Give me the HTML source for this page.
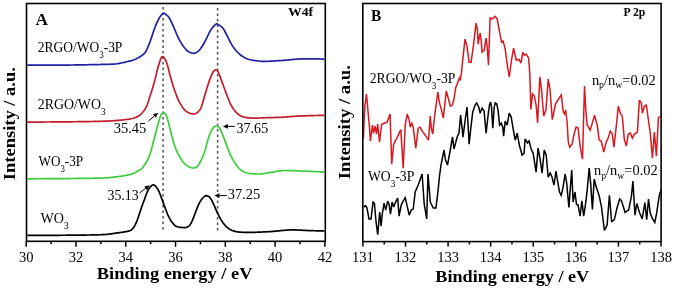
<!DOCTYPE html>
<html><head><meta charset="utf-8"><style>
html,body{margin:0;padding:0;background:#fff;width:675px;height:289px;overflow:hidden;}
svg{display:block;will-change:transform;}
</style></head><body>
<svg width="675" height="289" viewBox="0 0 675 289"><rect width="100%" height="100%" fill="#fff"/><line x1="163.1" y1="7" x2="163.1" y2="229.5" stroke="#505050" stroke-width="1.5" stroke-dasharray="2.6,2.9"/><line x1="217.6" y1="8" x2="217.6" y2="230.5" stroke="#505050" stroke-width="1.5" stroke-dasharray="2.6,2.9"/><path d="M27.30,65.20 L28.30,65.20 L29.30,65.20 L30.30,65.20 L31.30,65.20 L32.30,65.20 L33.30,65.20 L34.30,65.19 L35.30,65.19 L36.30,65.19 L37.30,65.19 L38.30,65.19 L39.30,65.18 L40.30,65.18 L41.30,65.18 L42.30,65.17 L43.30,65.17 L44.30,65.17 L45.30,65.16 L46.30,65.16 L47.30,65.16 L48.30,65.15 L49.30,65.15 L50.30,65.15 L51.30,65.14 L52.30,65.14 L53.30,65.13 L54.30,65.13 L55.30,65.12 L56.30,65.12 L57.30,65.11 L58.30,65.11 L59.30,65.10 L60.30,65.10 L61.30,65.09 L62.30,65.09 L63.30,65.08 L64.30,65.07 L65.30,65.06 L66.30,65.06 L67.30,65.05 L68.30,65.04 L69.30,65.03 L70.30,65.02 L71.30,65.00 L72.30,64.99 L73.30,64.98 L74.30,64.97 L75.30,64.95 L76.30,64.94 L77.30,64.93 L78.30,64.91 L79.30,64.90 L80.30,64.88 L81.30,64.86 L82.30,64.85 L83.30,64.83 L84.30,64.81 L85.30,64.80 L86.30,64.78 L87.30,64.76 L88.30,64.74 L89.30,64.72 L90.30,64.70 L91.30,64.68 L92.30,64.66 L93.30,64.64 L94.30,64.62 L95.30,64.60 L96.30,64.58 L97.30,64.56 L98.30,64.54 L99.30,64.52 L100.30,64.49 L101.30,64.47 L102.30,64.45 L103.30,64.43 L104.30,64.41 L105.30,64.38 L106.30,64.36 L107.30,64.33 L108.30,64.30 L109.30,64.27 L110.30,64.23 L111.30,64.19 L112.30,64.14 L113.30,64.10 L114.30,64.04 L115.30,63.98 L116.30,63.88 L117.30,63.74 L118.30,63.57 L119.30,63.38 L120.30,63.18 L121.30,62.98 L122.30,62.77 L123.30,62.55 L124.30,62.31 L125.30,62.06 L126.30,61.80 L127.30,61.55 L128.30,61.31 L129.30,61.08 L130.30,60.84 L131.30,60.60 L132.30,60.33 L133.30,60.03 L134.30,59.68 L135.30,59.28 L136.30,58.82 L137.30,58.31 L138.30,57.76 L139.30,57.17 L140.30,56.55 L141.30,55.91 L142.30,55.22 L143.30,54.43 L144.30,53.49 L145.30,52.34 L146.30,50.65 L147.30,48.48 L148.30,46.17 L149.30,43.67 L150.30,40.93 L151.30,38.10 L152.30,35.10 L153.30,31.98 L154.30,29.07 L155.30,26.49 L156.30,24.09 L157.30,21.91 L158.30,19.89 L159.30,18.00 L160.30,16.41 L161.30,15.18 L162.30,14.05 L163.30,13.31 L164.30,13.29 L165.30,13.89 L166.30,14.77 L167.30,15.64 L168.30,16.66 L169.30,18.04 L170.30,19.80 L171.30,21.78 L172.30,23.84 L173.30,26.14 L174.30,28.53 L175.30,30.90 L176.30,33.29 L177.30,35.53 L178.30,37.63 L179.30,39.62 L180.30,41.48 L181.30,43.19 L182.30,44.82 L183.30,46.30 L184.30,47.56 L185.30,48.74 L186.30,49.83 L187.30,50.75 L188.30,51.45 L189.30,51.97 L190.30,52.46 L191.30,52.87 L192.30,53.16 L193.30,53.30 L194.30,53.22 L195.30,52.91 L196.30,52.44 L197.30,51.87 L198.30,51.22 L199.30,50.26 L200.30,49.02 L201.30,47.61 L202.30,46.15 L203.30,44.54 L204.30,42.74 L205.30,40.82 L206.30,38.88 L207.30,36.89 L208.30,34.74 L209.30,32.62 L210.30,30.71 L211.30,29.16 L212.30,27.79 L213.30,26.59 L214.30,25.60 L215.30,24.68 L216.30,23.95 L217.30,23.87 L218.30,24.45 L219.30,25.20 L220.30,25.87 L221.30,26.60 L222.30,27.48 L223.30,28.63 L224.30,30.30 L225.30,32.24 L226.30,34.19 L227.30,36.17 L228.30,38.24 L229.30,40.24 L230.30,42.11 L231.30,43.92 L232.30,45.62 L233.30,47.14 L234.30,48.51 L235.30,49.78 L236.30,50.94 L237.30,52.00 L238.30,52.98 L239.30,53.91 L240.30,54.78 L241.30,55.56 L242.30,56.25 L243.30,56.85 L244.30,57.41 L245.30,57.93 L246.30,58.41 L247.30,58.84 L248.30,59.21 L249.30,59.52 L250.30,59.77 L251.30,59.99 L252.30,60.18 L253.30,60.36 L254.30,60.51 L255.30,60.65 L256.30,60.78 L257.30,60.89 L258.30,61.02 L259.30,61.13 L260.30,61.23 L261.30,61.32 L262.30,61.38 L263.30,61.40 L264.30,61.40 L265.30,61.38 L266.30,61.36 L267.30,61.33 L268.30,61.29 L269.30,61.25 L270.30,61.20 L271.30,61.14 L272.30,61.08 L273.30,61.02 L274.30,60.96 L275.30,60.89 L276.30,60.83 L277.30,60.76 L278.30,60.70 L279.30,60.64 L280.30,60.58 L281.30,60.52 L282.30,60.45 L283.30,60.37 L284.30,60.29 L285.30,60.20 L286.30,60.11 L287.30,60.02 L288.30,59.93 L289.30,59.83 L290.30,59.73 L291.30,59.64 L292.30,59.54 L293.30,59.45 L294.30,59.36 L295.30,59.27 L296.30,59.19 L297.30,59.11 L298.30,59.04 L299.30,58.98 L300.30,58.93 L301.30,58.88 L302.30,58.84 L303.30,58.82 L304.30,58.80 L305.30,58.80 L306.30,58.80 L307.30,58.80 L308.30,58.80 L309.30,58.80 L310.30,58.81 L311.30,58.81 L312.30,58.82 L313.30,58.83 L314.30,58.84 L315.30,58.86 L316.30,58.88 L317.30,58.90 L318.30,58.93 L319.30,58.96 L320.30,58.99 L321.30,59.03 L322.30,59.08 L323.30,59.13 L324.30,59.19 L324.50,59.20" fill="none" stroke="#2020a0" stroke-width="1.7" stroke-linejoin="round"/><path d="M27.30,122.10 L28.30,122.10 L29.30,122.10 L30.30,122.09 L31.30,122.09 L32.30,122.09 L33.30,122.08 L34.30,122.08 L35.30,122.07 L36.30,122.07 L37.30,122.06 L38.30,122.06 L39.30,122.05 L40.30,122.05 L41.30,122.04 L42.30,122.04 L43.30,122.03 L44.30,122.02 L45.30,122.02 L46.30,122.01 L47.30,122.00 L48.30,122.00 L49.30,121.99 L50.30,121.98 L51.30,121.97 L52.30,121.96 L53.30,121.96 L54.30,121.95 L55.30,121.94 L56.30,121.93 L57.30,121.92 L58.30,121.91 L59.30,121.91 L60.30,121.90 L61.30,121.89 L62.30,121.88 L63.30,121.87 L64.30,121.86 L65.30,121.85 L66.30,121.84 L67.30,121.83 L68.30,121.82 L69.30,121.81 L70.30,121.80 L71.30,121.79 L72.30,121.78 L73.30,121.77 L74.30,121.76 L75.30,121.75 L76.30,121.73 L77.30,121.72 L78.30,121.71 L79.30,121.70 L80.30,121.68 L81.30,121.67 L82.30,121.65 L83.30,121.64 L84.30,121.62 L85.30,121.61 L86.30,121.59 L87.30,121.57 L88.30,121.56 L89.30,121.54 L90.30,121.52 L91.30,121.50 L92.30,121.48 L93.30,121.46 L94.30,121.44 L95.30,121.42 L96.30,121.39 L97.30,121.37 L98.30,121.35 L99.30,121.32 L100.30,121.30 L101.30,121.27 L102.30,121.24 L103.30,121.22 L104.30,121.19 L105.30,121.16 L106.30,121.12 L107.30,121.08 L108.30,121.04 L109.30,120.99 L110.30,120.94 L111.30,120.88 L112.30,120.82 L113.30,120.76 L114.30,120.69 L115.30,120.62 L116.30,120.54 L117.30,120.46 L118.30,120.37 L119.30,120.28 L120.30,120.18 L121.30,120.08 L122.30,119.97 L123.30,119.86 L124.30,119.74 L125.30,119.62 L126.30,119.49 L127.30,119.36 L128.30,119.22 L129.30,119.07 L130.30,118.92 L131.30,118.72 L132.30,118.49 L133.30,118.20 L134.30,117.88 L135.30,117.51 L136.30,117.10 L137.30,116.64 L138.30,116.13 L139.30,115.50 L140.30,114.72 L141.30,113.80 L142.30,112.74 L143.30,111.55 L144.30,110.22 L145.30,108.76 L146.30,107.01 L147.30,104.59 L148.30,101.69 L149.30,98.53 L150.30,95.34 L151.30,92.25 L152.30,89.04 L153.30,85.69 L154.30,82.18 L155.30,78.38 L156.30,74.10 L157.30,69.86 L158.30,66.21 L159.30,63.12 L160.30,60.04 L161.30,57.61 L162.30,56.51 L163.30,56.89 L164.30,58.07 L165.30,59.77 L166.30,61.70 L167.30,64.44 L168.30,68.26 L169.30,72.44 L170.30,76.25 L171.30,79.75 L172.30,83.20 L173.30,86.48 L174.30,89.47 L175.30,92.31 L176.30,95.04 L177.30,97.60 L178.30,99.90 L179.30,101.90 L180.30,103.68 L181.30,105.37 L182.30,106.94 L183.30,108.35 L184.30,109.57 L185.30,110.57 L186.30,111.35 L187.30,112.04 L188.30,112.62 L189.30,113.07 L190.30,113.38 L191.30,113.63 L192.30,113.84 L193.30,113.97 L194.30,113.99 L195.30,113.74 L196.30,113.22 L197.30,112.47 L198.30,111.54 L199.30,110.45 L200.30,109.23 L201.30,107.08 L202.30,103.99 L203.30,100.45 L204.30,96.96 L205.30,93.74 L206.30,90.33 L207.30,86.91 L208.30,83.69 L209.30,80.87 L210.30,78.17 L211.30,75.60 L212.30,73.35 L213.30,71.67 L214.30,70.53 L215.30,69.83 L216.30,69.93 L217.30,70.37 L218.30,72.29 L219.30,74.75 L220.30,77.38 L221.30,80.16 L222.30,82.87 L223.30,85.57 L224.30,88.26 L225.30,90.94 L226.30,93.61 L227.30,96.23 L228.30,98.76 L229.30,101.28 L230.30,103.58 L231.30,105.52 L232.30,107.23 L233.30,108.74 L234.30,110.10 L235.30,111.33 L236.30,112.41 L237.30,113.36 L238.30,114.25 L239.30,115.03 L240.30,115.65 L241.30,116.11 L242.30,116.51 L243.30,116.87 L244.30,117.17 L245.30,117.41 L246.30,117.58 L247.30,117.68 L248.30,117.78 L249.30,117.87 L250.30,117.95 L251.30,118.01 L252.30,118.06 L253.30,118.09 L254.30,118.10 L255.30,118.10 L256.30,118.08 L257.30,118.06 L258.30,118.02 L259.30,117.99 L260.30,117.95 L261.30,117.91 L262.30,117.87 L263.30,117.83 L264.30,117.80 L265.30,117.77 L266.30,117.74 L267.30,117.71 L268.30,117.68 L269.30,117.65 L270.30,117.62 L271.30,117.59 L272.30,117.57 L273.30,117.54 L274.30,117.51 L275.30,117.47 L276.30,117.44 L277.30,117.40 L278.30,117.37 L279.30,117.33 L280.30,117.29 L281.30,117.24 L282.30,117.19 L283.30,117.13 L284.30,117.06 L285.30,116.99 L286.30,116.92 L287.30,116.84 L288.30,116.77 L289.30,116.69 L290.30,116.61 L291.30,116.53 L292.30,116.46 L293.30,116.38 L294.30,116.31 L295.30,116.25 L296.30,116.18 L297.30,116.12 L298.30,116.07 L299.30,116.03 L300.30,115.99 L301.30,115.95 L302.30,115.92 L303.30,115.88 L304.30,115.85 L305.30,115.81 L306.30,115.78 L307.30,115.75 L308.30,115.71 L309.30,115.68 L310.30,115.65 L311.30,115.62 L312.30,115.59 L313.30,115.57 L314.30,115.54 L315.30,115.52 L316.30,115.50 L317.30,115.48 L318.30,115.46 L319.30,115.45 L320.30,115.43 L321.30,115.42 L322.30,115.41 L323.30,115.40 L324.30,115.40 L324.50,115.40" fill="none" stroke="#c41c2c" stroke-width="1.7" stroke-linejoin="round"/><path d="M27.30,178.80 L28.30,178.80 L29.30,178.79 L30.30,178.79 L31.30,178.79 L32.30,178.78 L33.30,178.78 L34.30,178.77 L35.30,178.77 L36.30,178.76 L37.30,178.76 L38.30,178.75 L39.30,178.75 L40.30,178.74 L41.30,178.74 L42.30,178.73 L43.30,178.72 L44.30,178.72 L45.30,178.71 L46.30,178.70 L47.30,178.70 L48.30,178.69 L49.30,178.68 L50.30,178.68 L51.30,178.67 L52.30,178.66 L53.30,178.65 L54.30,178.65 L55.30,178.64 L56.30,178.63 L57.30,178.62 L58.30,178.61 L59.30,178.61 L60.30,178.60 L61.30,178.59 L62.30,178.58 L63.30,178.57 L64.30,178.57 L65.30,178.56 L66.30,178.55 L67.30,178.54 L68.30,178.53 L69.30,178.53 L70.30,178.52 L71.30,178.51 L72.30,178.50 L73.30,178.49 L74.30,178.48 L75.30,178.47 L76.30,178.46 L77.30,178.45 L78.30,178.44 L79.30,178.43 L80.30,178.42 L81.30,178.41 L82.30,178.40 L83.30,178.39 L84.30,178.38 L85.30,178.36 L86.30,178.35 L87.30,178.34 L88.30,178.32 L89.30,178.31 L90.30,178.29 L91.30,178.27 L92.30,178.26 L93.30,178.24 L94.30,178.22 L95.30,178.20 L96.30,178.18 L97.30,178.16 L98.30,178.14 L99.30,178.12 L100.30,178.09 L101.30,178.07 L102.30,178.04 L103.30,178.02 L104.30,177.99 L105.30,177.95 L106.30,177.89 L107.30,177.82 L108.30,177.74 L109.30,177.65 L110.30,177.55 L111.30,177.44 L112.30,177.32 L113.30,177.20 L114.30,177.07 L115.30,176.94 L116.30,176.80 L117.30,176.67 L118.30,176.53 L119.30,176.39 L120.30,176.26 L121.30,176.12 L122.30,175.99 L123.30,175.84 L124.30,175.69 L125.30,175.53 L126.30,175.35 L127.30,175.16 L128.30,174.95 L129.30,174.72 L130.30,174.47 L131.30,174.15 L132.30,173.78 L133.30,173.36 L134.30,172.90 L135.30,172.41 L136.30,171.90 L137.30,171.37 L138.30,170.83 L139.30,170.26 L140.30,169.63 L141.30,168.90 L142.30,168.01 L143.30,166.80 L144.30,165.34 L145.30,163.77 L146.30,162.19 L147.30,160.48 L148.30,158.50 L149.30,156.08 L150.30,153.23 L151.30,150.00 L152.30,146.25 L153.30,142.24 L154.30,138.26 L155.30,134.43 L156.30,130.57 L157.30,126.84 L158.30,123.37 L159.30,119.75 L160.30,116.53 L161.30,114.58 L162.30,113.47 L163.30,112.84 L164.30,113.01 L165.30,113.87 L166.30,115.19 L167.30,118.14 L168.30,122.09 L169.30,125.88 L170.30,129.88 L171.30,133.99 L172.30,137.85 L173.30,141.26 L174.30,144.48 L175.30,147.44 L176.30,150.04 L177.30,152.32 L178.30,154.37 L179.30,156.23 L180.30,157.94 L181.30,159.55 L182.30,161.01 L183.30,162.28 L184.30,163.35 L185.30,164.32 L186.30,165.17 L187.30,165.88 L188.30,166.47 L189.30,167.03 L190.30,167.49 L191.30,167.77 L192.30,167.90 L193.30,167.98 L194.30,167.98 L195.30,167.66 L196.30,167.08 L197.30,166.36 L198.30,165.20 L199.30,163.60 L200.30,161.75 L201.30,159.81 L202.30,157.64 L203.30,155.18 L204.30,152.45 L205.30,149.47 L206.30,145.82 L207.30,141.90 L208.30,138.48 L209.30,135.42 L210.30,132.70 L211.30,130.65 L212.30,129.02 L213.30,127.72 L214.30,126.86 L215.30,126.21 L216.30,125.74 L217.30,125.62 L218.30,126.36 L219.30,127.75 L220.30,129.32 L221.30,131.35 L222.30,133.82 L223.30,136.35 L224.30,138.94 L225.30,141.66 L226.30,144.37 L227.30,147.12 L228.30,149.85 L229.30,152.33 L230.30,154.56 L231.30,156.65 L232.30,158.59 L233.30,160.37 L234.30,162.04 L235.30,163.59 L236.30,165.03 L237.30,166.32 L238.30,167.52 L239.30,168.58 L240.30,169.44 L241.30,170.21 L242.30,170.91 L243.30,171.53 L244.30,172.03 L245.30,172.40 L246.30,172.71 L247.30,172.98 L248.30,173.22 L249.30,173.41 L250.30,173.55 L251.30,173.64 L252.30,173.72 L253.30,173.79 L254.30,173.85 L255.30,173.91 L256.30,173.95 L257.30,173.98 L258.30,174.00 L259.30,174.00 L260.30,173.96 L261.30,173.88 L262.30,173.77 L263.30,173.63 L264.30,173.47 L265.30,173.30 L266.30,173.11 L267.30,172.93 L268.30,172.76 L269.30,172.60 L270.30,172.46 L271.30,172.31 L272.30,172.15 L273.30,171.98 L274.30,171.81 L275.30,171.63 L276.30,171.45 L277.30,171.28 L278.30,171.12 L279.30,170.97 L280.30,170.83 L281.30,170.71 L282.30,170.62 L283.30,170.55 L284.30,170.51 L285.30,170.50 L286.30,170.51 L287.30,170.52 L288.30,170.54 L289.30,170.57 L290.30,170.60 L291.30,170.63 L292.30,170.67 L293.30,170.72 L294.30,170.76 L295.30,170.80 L296.30,170.85 L297.30,170.89 L298.30,170.93 L299.30,170.97 L300.30,171.01 L301.30,171.05 L302.30,171.08 L303.30,171.12 L304.30,171.16 L305.30,171.20 L306.30,171.24 L307.30,171.27 L308.30,171.31 L309.30,171.35 L310.30,171.39 L311.30,171.43 L312.30,171.47 L313.30,171.52 L314.30,171.56 L315.30,171.60 L316.30,171.64 L317.30,171.68 L318.30,171.73 L319.30,171.77 L320.30,171.81 L321.30,171.86 L322.30,171.90 L323.30,171.95 L324.30,171.99 L324.50,172.00" fill="none" stroke="#3ccc3c" stroke-width="1.7" stroke-linejoin="round"/><path d="M27.30,235.40 L28.30,235.40 L29.30,235.40 L30.30,235.40 L31.30,235.40 L32.30,235.40 L33.30,235.40 L34.30,235.39 L35.30,235.39 L36.30,235.39 L37.30,235.39 L38.30,235.38 L39.30,235.38 L40.30,235.38 L41.30,235.37 L42.30,235.37 L43.30,235.37 L44.30,235.36 L45.30,235.36 L46.30,235.35 L47.30,235.35 L48.30,235.34 L49.30,235.34 L50.30,235.33 L51.30,235.33 L52.30,235.32 L53.30,235.32 L54.30,235.31 L55.30,235.30 L56.30,235.30 L57.30,235.29 L58.30,235.28 L59.30,235.28 L60.30,235.27 L61.30,235.26 L62.30,235.25 L63.30,235.25 L64.30,235.24 L65.30,235.23 L66.30,235.22 L67.30,235.21 L68.30,235.21 L69.30,235.20 L70.30,235.19 L71.30,235.18 L72.30,235.17 L73.30,235.16 L74.30,235.15 L75.30,235.14 L76.30,235.14 L77.30,235.13 L78.30,235.12 L79.30,235.11 L80.30,235.10 L81.30,235.09 L82.30,235.08 L83.30,235.07 L84.30,235.05 L85.30,235.04 L86.30,235.03 L87.30,235.01 L88.30,235.00 L89.30,234.98 L90.30,234.97 L91.30,234.95 L92.30,234.93 L93.30,234.91 L94.30,234.89 L95.30,234.86 L96.30,234.84 L97.30,234.81 L98.30,234.79 L99.30,234.76 L100.30,234.73 L101.30,234.69 L102.30,234.66 L103.30,234.62 L104.30,234.58 L105.30,234.52 L106.30,234.44 L107.30,234.34 L108.30,234.23 L109.30,234.10 L110.30,233.96 L111.30,233.82 L112.30,233.67 L113.30,233.51 L114.30,233.36 L115.30,233.21 L116.30,233.07 L117.30,232.93 L118.30,232.80 L119.30,232.66 L120.30,232.53 L121.30,232.39 L122.30,232.24 L123.30,232.09 L124.30,231.92 L125.30,231.75 L126.30,231.58 L127.30,231.40 L128.30,231.20 L129.30,230.93 L130.30,230.57 L131.30,229.93 L132.30,229.02 L133.30,227.93 L134.30,226.44 L135.30,224.60 L136.30,222.48 L137.30,219.84 L138.30,216.95 L139.30,214.04 L140.30,210.98 L141.30,207.96 L142.30,205.18 L143.30,202.55 L144.30,199.93 L145.30,197.15 L146.30,194.29 L147.30,191.81 L148.30,189.81 L149.30,188.07 L150.30,186.80 L151.30,185.83 L152.30,185.07 L153.30,184.80 L154.30,185.19 L155.30,186.02 L156.30,187.01 L157.30,188.40 L158.30,190.21 L159.30,192.24 L160.30,194.73 L161.30,197.50 L162.30,200.19 L163.30,202.84 L164.30,205.50 L165.30,208.20 L166.30,211.05 L167.30,213.74 L168.30,215.95 L169.30,217.93 L170.30,219.69 L171.30,221.20 L172.30,222.51 L173.30,223.77 L174.30,224.90 L175.30,225.82 L176.30,226.42 L177.30,226.75 L178.30,226.99 L179.30,227.17 L180.30,227.30 L181.30,227.40 L182.30,227.48 L183.30,227.55 L184.30,227.59 L185.30,227.59 L186.30,227.42 L187.30,227.07 L188.30,226.60 L189.30,225.82 L190.30,224.41 L191.30,222.73 L192.30,220.59 L193.30,218.07 L194.30,215.53 L195.30,212.85 L196.30,210.21 L197.30,207.66 L198.30,205.19 L199.30,203.13 L200.30,201.35 L201.30,199.79 L202.30,198.51 L203.30,197.50 L204.30,196.54 L205.30,195.84 L206.30,195.60 L207.30,195.80 L208.30,196.24 L209.30,196.88 L210.30,198.11 L211.30,199.68 L212.30,201.44 L213.30,203.55 L214.30,205.74 L215.30,208.05 L216.30,210.39 L217.30,212.57 L218.30,214.67 L219.30,216.67 L220.30,218.50 L221.30,220.18 L222.30,221.75 L223.30,223.17 L224.30,224.40 L225.30,225.55 L226.30,226.59 L227.30,227.51 L228.30,228.27 L229.30,228.92 L230.30,229.52 L231.30,230.04 L232.30,230.49 L233.30,230.84 L234.30,231.12 L235.30,231.38 L236.30,231.61 L237.30,231.81 L238.30,231.96 L239.30,232.07 L240.30,232.13 L241.30,232.19 L242.30,232.24 L243.30,232.28 L244.30,232.32 L245.30,232.35 L246.30,232.38 L247.30,232.39 L248.30,232.40 L249.30,232.40 L250.30,232.39 L251.30,232.38 L252.30,232.36 L253.30,232.34 L254.30,232.32 L255.30,232.29 L256.30,232.25 L257.30,232.22 L258.30,232.18 L259.30,232.13 L260.30,232.09 L261.30,232.04 L262.30,231.99 L263.30,231.94 L264.30,231.89 L265.30,231.84 L266.30,231.79 L267.30,231.74 L268.30,231.69 L269.30,231.64 L270.30,231.58 L271.30,231.53 L272.30,231.46 L273.30,231.38 L274.30,231.30 L275.30,231.21 L276.30,231.12 L277.30,231.02 L278.30,230.92 L279.30,230.82 L280.30,230.72 L281.30,230.62 L282.30,230.52 L283.30,230.42 L284.30,230.33 L285.30,230.25 L286.30,230.17 L287.30,230.10 L288.30,230.04 L289.30,229.99 L290.30,229.94 L291.30,229.92 L292.30,229.90 L293.30,229.90 L294.30,229.91 L295.30,229.93 L296.30,229.96 L297.30,229.99 L298.30,230.03 L299.30,230.07 L300.30,230.12 L301.30,230.17 L302.30,230.23 L303.30,230.28 L304.30,230.34 L305.30,230.39 L306.30,230.44 L307.30,230.49 L308.30,230.54 L309.30,230.58 L310.30,230.61 L311.30,230.64 L312.30,230.67 L313.30,230.70 L314.30,230.73 L315.30,230.76 L316.30,230.79 L317.30,230.82 L318.30,230.85 L319.30,230.88 L320.30,230.90 L321.30,230.93 L322.30,230.95 L323.30,230.97 L324.30,231.00 L324.50,231.00" fill="none" stroke="#000" stroke-width="1.7" stroke-linejoin="round"/><rect x="26.5" y="3.5" width="298.80" height="237.80" fill="none" stroke="#000" stroke-width="1.6"/><line x1="26.20" y1="241.3" x2="26.20" y2="246.8" stroke="#000" stroke-width="1.5"/><line x1="51.09" y1="241.3" x2="51.09" y2="244.3" stroke="#000" stroke-width="1.5"/><line x1="75.98" y1="241.3" x2="75.98" y2="246.8" stroke="#000" stroke-width="1.5"/><line x1="100.87" y1="241.3" x2="100.87" y2="244.3" stroke="#000" stroke-width="1.5"/><line x1="125.76" y1="241.3" x2="125.76" y2="246.8" stroke="#000" stroke-width="1.5"/><line x1="150.65" y1="241.3" x2="150.65" y2="244.3" stroke="#000" stroke-width="1.5"/><line x1="175.54" y1="241.3" x2="175.54" y2="246.8" stroke="#000" stroke-width="1.5"/><line x1="200.43" y1="241.3" x2="200.43" y2="244.3" stroke="#000" stroke-width="1.5"/><line x1="225.32" y1="241.3" x2="225.32" y2="246.8" stroke="#000" stroke-width="1.5"/><line x1="250.21" y1="241.3" x2="250.21" y2="244.3" stroke="#000" stroke-width="1.5"/><line x1="275.10" y1="241.3" x2="275.10" y2="246.8" stroke="#000" stroke-width="1.5"/><line x1="299.99" y1="241.3" x2="299.99" y2="244.3" stroke="#000" stroke-width="1.5"/><line x1="324.88" y1="241.3" x2="324.88" y2="246.8" stroke="#000" stroke-width="1.5"/><text x="26.20" y="261.8" font-family="Liberation Serif, serif" font-size="14.5" text-anchor="middle">30</text><text x="75.98" y="261.8" font-family="Liberation Serif, serif" font-size="14.5" text-anchor="middle">32</text><text x="125.76" y="261.8" font-family="Liberation Serif, serif" font-size="14.5" text-anchor="middle">34</text><text x="175.54" y="261.8" font-family="Liberation Serif, serif" font-size="14.5" text-anchor="middle">36</text><text x="225.32" y="261.8" font-family="Liberation Serif, serif" font-size="14.5" text-anchor="middle">38</text><text x="275.10" y="261.8" font-family="Liberation Serif, serif" font-size="14.5" text-anchor="middle">40</text><text x="324.88" y="261.8" font-family="Liberation Serif, serif" font-size="14.5" text-anchor="middle">42</text><line x1="148.4" y1="121.1" x2="154.38" y2="116.03" stroke="#000" stroke-width="1"/><polygon points="158.2,112.8 155.87,117.79 152.90,114.28" fill="#000"/><line x1="234.7" y1="126.4" x2="227.90" y2="126.40" stroke="#000" stroke-width="1"/><polygon points="222.9,126.4 227.90,124.10 227.90,128.70" fill="#000"/><line x1="139.5" y1="193" x2="145.62" y2="188.33" stroke="#000" stroke-width="1"/><polygon points="149.6,185.3 147.02,190.16 144.23,186.50" fill="#000"/><line x1="226.7" y1="195.6" x2="219.50" y2="195.60" stroke="#000" stroke-width="1"/><polygon points="214.5,195.6 219.50,193.30 219.50,197.90" fill="#000"/><path d="M363.30,139.00 L364.20,118.00 L364.90,106.00 L366.50,94.00 L368.00,111.00 L369.50,128.00 L370.40,141.00 L372.40,125.20 L373.60,133.20 L375.10,126.20 L376.50,134.00 L377.70,124.20 L379.50,142.00 L381.70,124.20 L384.10,123.20 L387.10,122.10 L390.10,114.10 L391.70,164.20 L393.70,144.10 L395.10,141.10 L397.00,138.00 L399.10,133.10 L400.80,129.60 L403.20,168.20 L405.20,125.00 L407.20,114.10 L409.20,120.10 L410.20,127.20 L411.80,123.20 L413.20,127.20 L415.80,148.10 L418.20,128.20 L420.20,127.20 L422.20,131.20 L425.30,135.20 L428.50,140.20 L430.30,116.10 L431.30,128.20 L432.70,134.20 L434.70,115.10 L437.90,92.00 L439.30,102.10 L441.30,109.10 L443.30,118.10 L446.30,91.00 L450.40,106.10 L452.40,105.10 L454.10,98.30 L455.70,87.70 L458.20,81.20 L459.50,77.90 L460.30,80.40 L461.40,73.00 L462.20,65.00 L465.00,39.10 L467.00,46.10 L469.10,62.20 L471.10,62.20 L473.50,45.10 L476.10,23.10 L477.50,30.10 L478.10,44.10 L480.10,33.10 L481.10,40.10 L482.10,52.20 L484.10,50.20 L486.10,38.10 L487.10,46.10 L488.50,65.20 L490.10,18.00 L492.10,19.00 L495.20,16.40 L497.20,19.00 L499.60,32.10 L501.60,42.10 L503.20,41.10 L505.20,49.20 L507.60,67.20 L509.30,77.00 L511.50,60.00 L513.60,48.20 L516.20,60.20 L518.90,59.20 L520.90,63.20 L522.90,52.20 L524.30,55.20 L526.30,54.20 L528.60,58.00 L529.80,73.50 L530.90,109.50 L532.50,93.80 L534.30,96.00 L536.10,105.00 L537.60,123.00 L539.90,76.90 L541.50,89.30 L543.70,116.30 L546.00,109.50 L548.20,79.10 L550.00,89.30 L552.30,119.60 L555.60,103.90 L559.00,98.30 L561.30,94.90 L563.30,112.00 L564.60,114.00 L565.60,110.00 L567.00,121.00 L568.30,142.00 L569.70,147.10 L572.10,144.10 L574.10,134.10 L576.10,127.10 L578.10,128.10 L580.10,146.10 L582.50,159.20 L584.50,86.10 L585.80,110.20 L587.20,125.00 L590.20,130.10 L593.20,120.00 L594.60,115.20 L597.20,125.10 L599.20,140.10 L601.20,141.10 L603.80,152.20 L606.20,142.10 L608.20,138.10 L610.20,131.10 L612.30,134.10 L613.90,147.10 L616.30,126.10 L618.30,106.10 L620.30,113.20 L622.30,116.20 L624.30,139.10 L626.30,146.10 L628.30,134.10 L630.30,133.10 L632.30,138.10 L634.30,134.10 L637.40,132.10 L639.40,100.10 L641.40,103.10 L642.40,113.20 L644.40,106.10 L646.40,105.10 L648.40,120.00 L650.40,134.10 L652.40,158.20 L654.40,132.10 L656.40,156.20 L658.40,118.00 L660.40,116.20" fill="none" stroke="#d81820" stroke-width="1.5" stroke-linejoin="miter" stroke-miterlimit="3"/><path d="M363.60,207.10 L365.60,205.70 L367.00,208.10 L369.00,219.10 L371.00,219.10 L373.00,202.10 L374.40,203.10 L376.10,222.20 L377.70,234.60 L379.70,212.10 L381.10,226.20 L382.10,215.10 L384.10,203.10 L385.70,210.10 L387.70,201.10 L389.10,204.10 L390.50,214.10 L392.10,202.10 L393.70,207.10 L395.10,203.10 L397.70,198.10 L399.10,216.10 L401.20,205.10 L403.20,201.10 L405.20,197.70 L407.20,206.10 L409.20,215.10 L411.20,210.10 L413.20,209.10 L415.20,192.00 L418.20,185.00 L422.10,174.00 L424.20,204.00 L426.70,219.00 L428.00,174.00 L430.30,202.00 L433.30,208.00 L435.90,208.00 L437.90,192.00 L439.50,176.00 L441.00,165.00 L444.00,150.00 L445.50,160.00 L447.50,165.00 L450.30,150.00 L452.50,137.00 L454.00,149.00 L455.60,143.00 L457.50,136.00 L459.00,133.20 L460.60,115.10 L462.00,127.10 L463.00,137.20 L465.00,121.10 L467.00,107.00 L468.10,125.10 L469.10,144.20 L470.70,129.10 L472.70,112.10 L475.10,105.00 L476.70,103.00 L478.70,107.00 L480.10,113.10 L482.10,108.10 L484.10,111.10 L486.10,133.20 L488.10,115.10 L489.50,105.00 L490.70,102.00 L491.50,107.00 L492.80,128.10 L494.20,107.00 L495.20,103.00 L496.80,104.00 L498.20,111.10 L499.60,125.10 L501.20,123.10 L502.80,127.10 L503.60,136.20 L505.20,121.10 L507.20,125.10 L509.20,113.10 L511.20,117.10 L513.20,129.10 L515.20,140.20 L517.20,133.20 L519.30,145.00 L522.10,155.10 L524.10,153.10 L525.10,139.00 L527.50,143.00 L529.10,141.00 L531.10,149.10 L533.10,153.10 L536.10,172.10 L538.10,148.10 L540.10,159.10 L542.10,173.20 L544.20,150.10 L546.20,155.10 L548.20,177.20 L550.20,173.00 L552.00,177.00 L554.00,185.00 L556.00,171.00 L557.40,180.00 L559.50,192.00 L561.20,195.40 L563.10,187.10 L565.10,174.00 L566.70,183.10 L568.90,207.50 L570.10,191.10 L571.70,170.00 L573.10,202.00 L575.00,192.00 L576.50,204.40 L578.10,205.10 L580.10,216.10 L581.90,200.80 L583.70,216.10 L585.50,204.40 L587.10,191.10 L589.20,168.00 L590.80,185.10 L592.40,209.50 L594.20,179.00 L596.20,187.10 L597.60,191.10 L599.20,196.00 L601.50,207.00 L604.40,230.50 L607.10,225.10 L609.40,195.40 L611.60,221.50 L614.30,219.70 L617.00,208.00 L619.70,199.00 L621.50,200.80 L625.10,212.50 L628.70,209.80 L631.40,196.30 L632.90,181.10 L635.00,215.20 L636.80,203.50 L639.50,212.50 L642.20,218.80 L644.90,202.60 L646.70,219.70 L648.50,199.00 L650.30,213.40 L652.10,217.90 L654.80,222.40 L656.60,213.40 L659.30,195.40 L661.10,190.00" fill="none" stroke="#000" stroke-width="1.5" stroke-linejoin="miter" stroke-miterlimit="3"/><rect x="362.8" y="3.5" width="298.30" height="238.10" fill="none" stroke="#000" stroke-width="1.6"/><line x1="362.90" y1="241.6" x2="362.90" y2="246.6" stroke="#000" stroke-width="1.5"/><line x1="384.19" y1="241.6" x2="384.19" y2="244.4" stroke="#000" stroke-width="1.5"/><line x1="405.49" y1="241.6" x2="405.49" y2="246.6" stroke="#000" stroke-width="1.5"/><line x1="426.78" y1="241.6" x2="426.78" y2="244.4" stroke="#000" stroke-width="1.5"/><line x1="448.08" y1="241.6" x2="448.08" y2="246.6" stroke="#000" stroke-width="1.5"/><line x1="469.38" y1="241.6" x2="469.38" y2="244.4" stroke="#000" stroke-width="1.5"/><line x1="490.67" y1="241.6" x2="490.67" y2="246.6" stroke="#000" stroke-width="1.5"/><line x1="511.96" y1="241.6" x2="511.96" y2="244.4" stroke="#000" stroke-width="1.5"/><line x1="533.26" y1="241.6" x2="533.26" y2="246.6" stroke="#000" stroke-width="1.5"/><line x1="554.56" y1="241.6" x2="554.56" y2="244.4" stroke="#000" stroke-width="1.5"/><line x1="575.85" y1="241.6" x2="575.85" y2="246.6" stroke="#000" stroke-width="1.5"/><line x1="597.14" y1="241.6" x2="597.14" y2="244.4" stroke="#000" stroke-width="1.5"/><line x1="618.44" y1="241.6" x2="618.44" y2="246.6" stroke="#000" stroke-width="1.5"/><line x1="639.74" y1="241.6" x2="639.74" y2="244.4" stroke="#000" stroke-width="1.5"/><line x1="661.03" y1="241.6" x2="661.03" y2="246.6" stroke="#000" stroke-width="1.5"/><text x="362.90" y="262" font-family="Liberation Serif, serif" font-size="14.5" text-anchor="middle">131</text><text x="405.49" y="262" font-family="Liberation Serif, serif" font-size="14.5" text-anchor="middle">132</text><text x="448.08" y="262" font-family="Liberation Serif, serif" font-size="14.5" text-anchor="middle">133</text><text x="490.67" y="262" font-family="Liberation Serif, serif" font-size="14.5" text-anchor="middle">134</text><text x="533.26" y="262" font-family="Liberation Serif, serif" font-size="14.5" text-anchor="middle">135</text><text x="575.85" y="262" font-family="Liberation Serif, serif" font-size="14.5" text-anchor="middle">136</text><text x="618.44" y="262" font-family="Liberation Serif, serif" font-size="14.5" text-anchor="middle">137</text><text x="661.03" y="262" font-family="Liberation Serif, serif" font-size="14.5" text-anchor="middle">138</text><text transform="translate(96.80,278.5) scale(1.1489,1)" font-family="Liberation Serif, serif" font-size="16" font-weight="bold">Binding energy / eV</text><text transform="translate(435.30,281.7) scale(1.1363,1)" font-family="Liberation Serif, serif" font-size="16" font-weight="bold">Binding energy / eV</text><text transform="translate(15.0,180.16) rotate(-90) scale(1.1562,1)" font-family="Liberation Serif, serif" font-size="16" font-weight="bold">Intensity / a.u.</text><text transform="translate(350.2,179.17) rotate(-90) scale(1.1667,1)" font-family="Liberation Serif, serif" font-size="16" font-weight="bold">Intensity / a.u.</text><text transform="translate(35.40,24.6) scale(1.0500,1)" font-family="Liberation Serif, serif" font-size="16.5" font-weight="bold">A</text><text transform="translate(371.00,21.1) scale(0.9364,1)" font-family="Liberation Serif, serif" font-size="16.5" font-weight="bold">B</text><text transform="translate(288.00,16.1) scale(1.0957,1)" font-family="Liberation Serif, serif" font-size="12.5" font-weight="bold">W4f</text><text transform="translate(623.50,16.1) scale(0.9391,1)" font-family="Liberation Serif, serif" font-size="12.5" font-weight="bold">P 2p</text><text transform="translate(37.80,52.0) scale(0.9494,1)" font-family="Liberation Serif, serif" font-size="14.2" font-weight="normal">2RGO/WO<tspan font-size="9.5" dy="5.8">3</tspan><tspan dy="-5.8">-3P</tspan></text><text transform="translate(37.80,108.8) scale(0.9768,1)" font-family="Liberation Serif, serif" font-size="14.2" font-weight="normal">2RGO/WO<tspan font-size="9.5" dy="5.8">3</tspan></text><text transform="translate(38.50,166.4) scale(0.9271,1)" font-family="Liberation Serif, serif" font-size="14.2" font-weight="normal">WO<tspan font-size="9.5" dy="5.8">3</tspan><tspan dy="-5.8">-3P</tspan></text><text transform="translate(40.60,223.4) scale(0.9893,1)" font-family="Liberation Serif, serif" font-size="14.2" font-weight="normal">WO<tspan font-size="9.5" dy="5.8">3</tspan></text><text transform="translate(113.66,132.5) scale(1.0367,1)" font-family="Liberation Serif, serif" font-size="14" font-weight="normal">35.45</text><text transform="translate(236.49,132.5) scale(1.0067,1)" font-family="Liberation Serif, serif" font-size="14" font-weight="normal">37.65</text><text transform="translate(107.51,199.6) scale(0.9900,1)" font-family="Liberation Serif, serif" font-size="14" font-weight="normal">35.13</text><text transform="translate(227.67,198.5) scale(1.0333,1)" font-family="Liberation Serif, serif" font-size="14" font-weight="normal">37.25</text><text transform="translate(369.80,82.7) scale(0.9596,1)" font-family="Liberation Serif, serif" font-size="14.2" font-weight="normal">2RGO/WO<tspan font-size="9.5" dy="5.8">3</tspan><tspan dy="-5.8">-3P</tspan></text><text transform="translate(367.90,181.4) scale(0.9646,1)" font-family="Liberation Serif, serif" font-size="14.2" font-weight="normal">WO<tspan font-size="9.5" dy="5.8">3</tspan><tspan dy="-5.8">-3P</tspan></text><text transform="translate(591.90,84.6) scale(1.0328,1)" font-family="Liberation Serif, serif" font-size="14" font-weight="normal">n<tspan font-size="9.5" dy="3.4">p</tspan><tspan dy="-3.4">/n</tspan><tspan font-size="9.5" dy="3.4">w</tspan><tspan dy="-3.4">=0.02</tspan></text><text transform="translate(594.00,175.4) scale(1.0295,1)" font-family="Liberation Serif, serif" font-size="14" font-weight="normal">n<tspan font-size="9.5" dy="3.4">p</tspan><tspan dy="-3.4">/n</tspan><tspan font-size="9.5" dy="3.4">w</tspan><tspan dy="-3.4">=0.02</tspan></text></svg>
</body></html>
